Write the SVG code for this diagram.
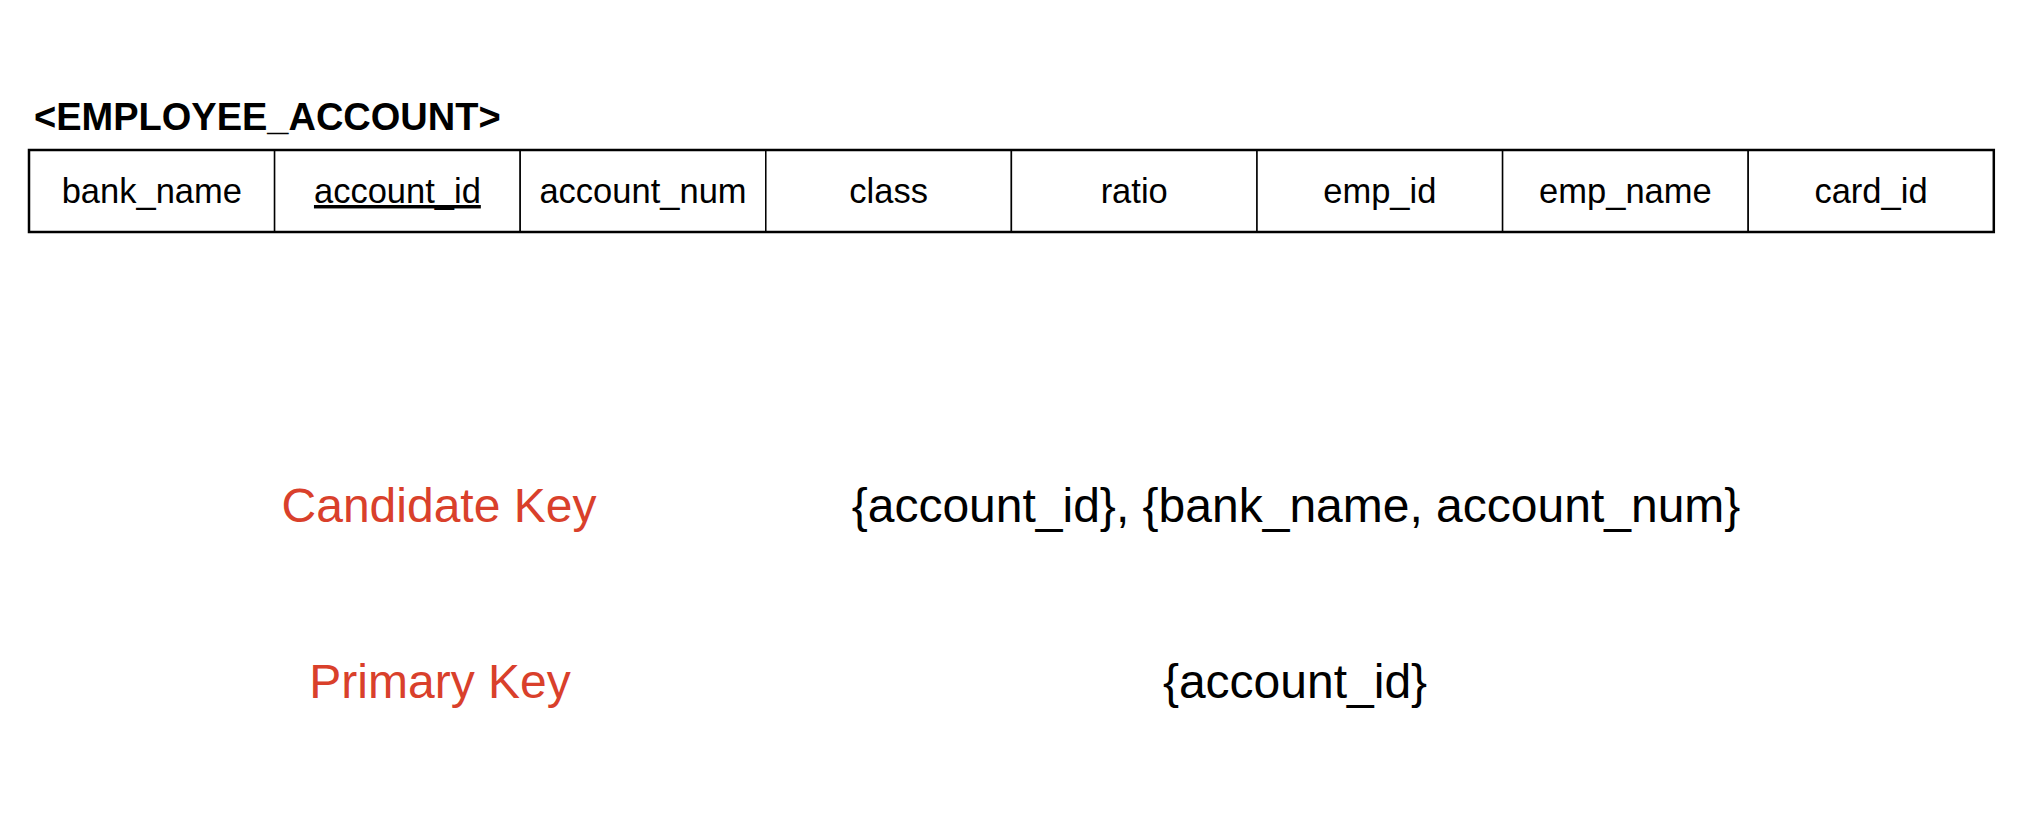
<svg xmlns="http://www.w3.org/2000/svg" width="2036" height="828" viewBox="0 0 2036 828">
<style>
.t{font-family:"Liberation Sans",Arial,sans-serif;}
.title{font-size:38px;font-weight:bold;fill:#000;}
.hd{font-size:34.5px;fill:#000;text-anchor:middle;}
.cell{fill:#fff;stroke:#000;stroke-width:1.5;}
.red{font-size:48px;fill:#D9402B;text-anchor:middle;}
.val{font-size:48px;fill:#000;text-anchor:middle;}
</style>
<rect width="2036" height="828" fill="#fff"/>
<g id="title"><text class="t title" x="34" y="130">&lt;EMPLOYEE_ACCOUNT&gt;</text></g>
<g id="table">
<rect class="cell" x="29" y="150" width="245.6" height="82"/>
<rect class="cell" x="274.6" y="150" width="245.6" height="82"/>
<rect class="cell" x="520.2" y="150" width="245.6" height="82"/>
<rect class="cell" x="765.8" y="150" width="245.6" height="82"/>
<rect class="cell" x="1011.4" y="150" width="245.6" height="82"/>
<rect class="cell" x="1257" y="150" width="245.6" height="82"/>
<rect class="cell" x="1502.6" y="150" width="245.6" height="82"/>
<rect class="cell" x="1748.2" y="150" width="245.6" height="82"/>
<rect x="29" y="150" width="1964.8" height="82" fill="none" stroke="#000" stroke-width="2.5"/>
<text class="t hd" x="151.8" y="203">bank_name</text>
<text class="t hd" x="397.4" y="203" text-decoration="underline">account_id</text>
<text class="t hd" x="643" y="203">account_num</text>
<text class="t hd" x="888.6" y="203">class</text>
<text class="t hd" x="1134.2" y="203">ratio</text>
<text class="t hd" x="1379.8" y="203">emp_id</text>
<text class="t hd" x="1625.4" y="203">emp_name</text>
<text class="t hd" x="1871" y="203">card_id</text>
</g>
<g id="candidate">
<text class="t red" x="439" y="522">Candidate Key</text>
<text class="t val" x="1296" y="522">{account_id}, {bank_name, account_num}</text>
</g>
<g id="primary">
<text class="t red" x="440" y="698">Primary Key</text>
<text class="t val" x="1295" y="698">{account_id}</text>
</g>
<g id="connectors"></g>
</svg>
